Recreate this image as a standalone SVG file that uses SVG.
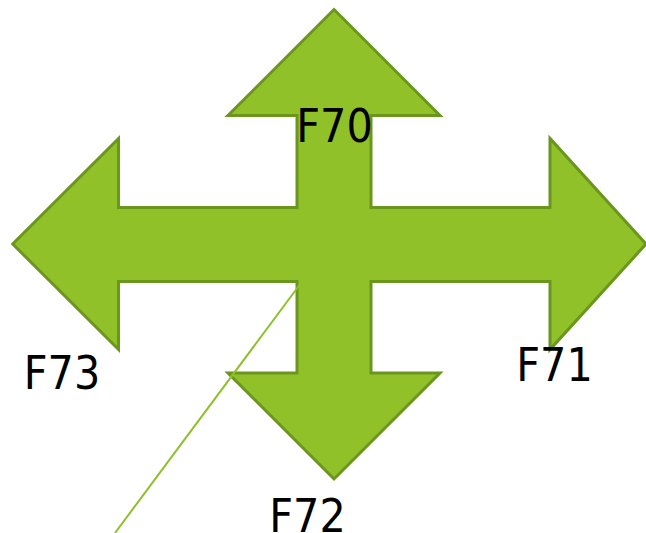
<svg xmlns="http://www.w3.org/2000/svg" width="646" height="533" viewBox="0 0 646 533">
<style>
.shape{fill:#90c128;stroke:#6b961e;stroke-width:3;stroke-linejoin:miter}
.lbl{font-family:"DejaVu Sans Condensed","DejaVu Sans",sans-serif;font-stretch:condensed;font-size:46px;fill:#000;text-anchor:middle}
.conn{stroke:#8dc02a;stroke-width:2;fill:none}
</style>
<rect width="646" height="533" fill="#fff"/>
<g id="cross-arrow">
<path class="shape" d="M334,9.5 L440,115.5 L371,115.5 L371,207.5 L550,207.5 L550,138.5 L646,244 L550,349.5 L550,281.5 L371,281.5 L371,373 L440,373 L334,479 L228,373 L297,373 L297,281.5 L118.5,281.5 L118.5,349.5 L12.7,244 L118.5,138.5 L118.5,207.5 L297,207.5 L297,115.5 L228,115.5 Z"/>
</g>
<g id="connectors">
<line class="conn" x1="299.5" y1="285" x2="115" y2="533"/>
</g>
<g id="F70"><text class="lbl" x="334.5" y="142.3">F70</text></g>
<g id="F71"><text class="lbl" x="554.5" y="381">F71</text></g>
<g id="F72"><text class="lbl" x="307.5" y="531.7">F72</text></g>
<g id="F73"><text class="lbl" x="62" y="388.7">F73</text></g>
</svg>
